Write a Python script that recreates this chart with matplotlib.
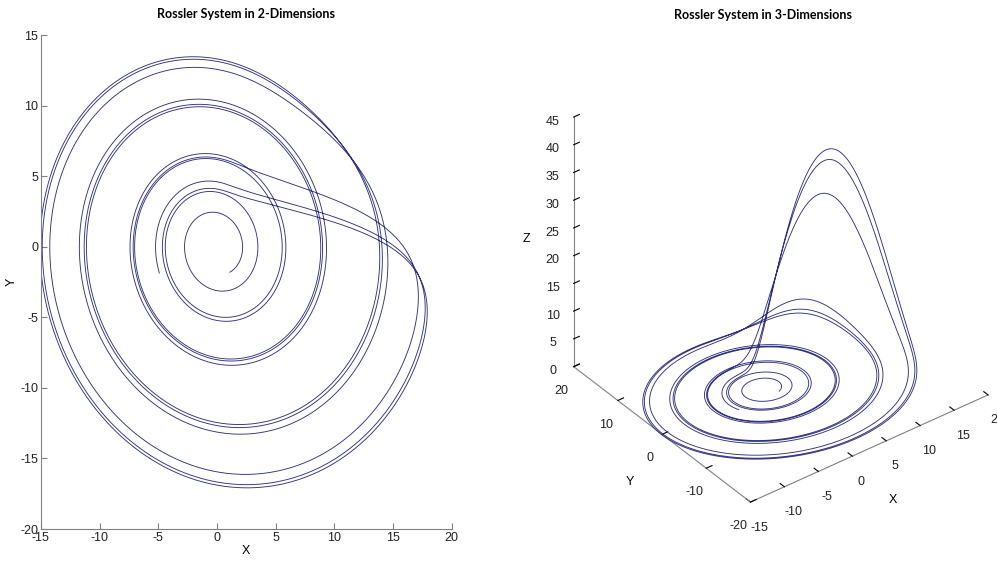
import numpy as np
import matplotlib
matplotlib.use("Agg")
import matplotlib.pyplot as plt

# Rossler parameters a, b, c and the starting state (x, y, z)
abc = [0.15, 0.2, 10.5]
state0 = [1.1, -1.8, 0.0]
t_span = [0.0, 78.0]
dt = 0.01

xticks_2d = [-15, -10, -5, 0, 5, 10, 15, 20]
yticks_2d = [-20, -15, -10, -5, 0, 5, 10, 15]
xticks_3d = [-15, -10, -5, 0, 5, 10, 15, 20]
yticks_3d = [-20, -10, 0, 10, 20]
zticks_3d = [0, 5, 10, 15, 20, 25, 30, 35, 40, 45]

line_color = "#32327e"
axis_color = "#808080"

plt.rcParams["font.family"] = ["Liberation Sans", "DejaVu Sans"]
plt.rcParams["font.size"] = 9
plt.rcParams["axes.unicode_minus"] = False


def rossler(s, a, b, c):
    x, y, z = s
    return np.array([-y - z, x + a * y, b + z * (x - c)])


def solve(s0, t0, t1, h):
    n = int(round((t1 - t0) / h))
    out = np.empty((n + 1, 3))
    s = np.array(s0, float)
    out[0] = s
    a, b, c = abc
    for i in range(n):
        k1 = rossler(s, a, b, c)
        k2 = rossler(s + h / 2 * k1, a, b, c)
        k3 = rossler(s + h / 2 * k2, a, b, c)
        k4 = rossler(s + h * k3, a, b, c)
        s = s + h / 6 * (k1 + 2 * k2 + 2 * k3 + k4)
        out[i + 1] = s
    return out


traj = solve(state0, t_span[0], t_span[1], dt)
xs, ys, zs = traj[:, 0], traj[:, 1], traj[:, 2]

fig = plt.figure(figsize=(9.97, 5.67), dpi=100)
title_font = dict(family=["Lato", "DejaVu Sans"], fontweight="bold", fontsize=9)

# --- 2-D projection
ax = fig.add_axes([0.041, 0.067, 0.412, 0.871])
ax.plot(xs, ys, color=line_color, lw=0.65)
ax.set_xlim(-15, 20)
ax.set_ylim(-20, 15)
ax.set_xticks(xticks_2d)
ax.set_yticks(yticks_2d)
for side in ("top", "right"):
    ax.spines[side].set_visible(False)
for side in ("left", "bottom"):
    ax.spines[side].set_color(axis_color)
ax.tick_params(direction="in", length=4, color=axis_color, labelcolor="#222222", pad=2)
ax.set_xlabel("X", labelpad=1)
ax.set_ylabel("Y")
ax.yaxis.set_label_coords(-0.057, 0.5)
ax.set_title("Rossler System in 2-Dimensions", pad=12, **title_font)

# --- 3-D view
ax3 = fig.add_axes([0.567, 0.115, 0.421, 0.847], projection="3d", proj_type="ortho")
ax3.plot(xs, ys, zs, color=line_color, lw=0.65)
ax3.set_xlim(-15, 20)
ax3.set_ylim(-20, 20)
ax3.set_zlim(0, 45)
ax3.set_xticks(xticks_3d)
ax3.set_yticks(yticks_3d)
ax3.set_zticks(zticks_3d)
ax3.view_init(elev=36, azim=-127.5)
ax3.set_box_aspect((1.0, 0.97, 1.03), zoom=1.2)
ax3.grid(False)
for axis in (ax3.xaxis, ax3.yaxis, ax3.zaxis):
    axis.pane.fill = False
    axis.pane.set_edgecolor("none")
    axis.line.set_color(axis_color)
    axis._axinfo["tick"]["color"] = axis_color
    axis._axinfo["tick"]["inward_factor"] = 0.0
    axis._axinfo["tick"]["outward_factor"] = 0.3
ax3.tick_params(labelcolor="#222222", pad=0)
ax3.set_xlabel("X", labelpad=0)
ax3.set_ylabel("Y", labelpad=0)
ax3.set_zlabel("Z", labelpad=-3)
fig.text(0.765, 0.985, "Rossler System in 3-Dimensions", ha="center", va="top", **title_font)

fig.savefig("out.png", dpi=100)
